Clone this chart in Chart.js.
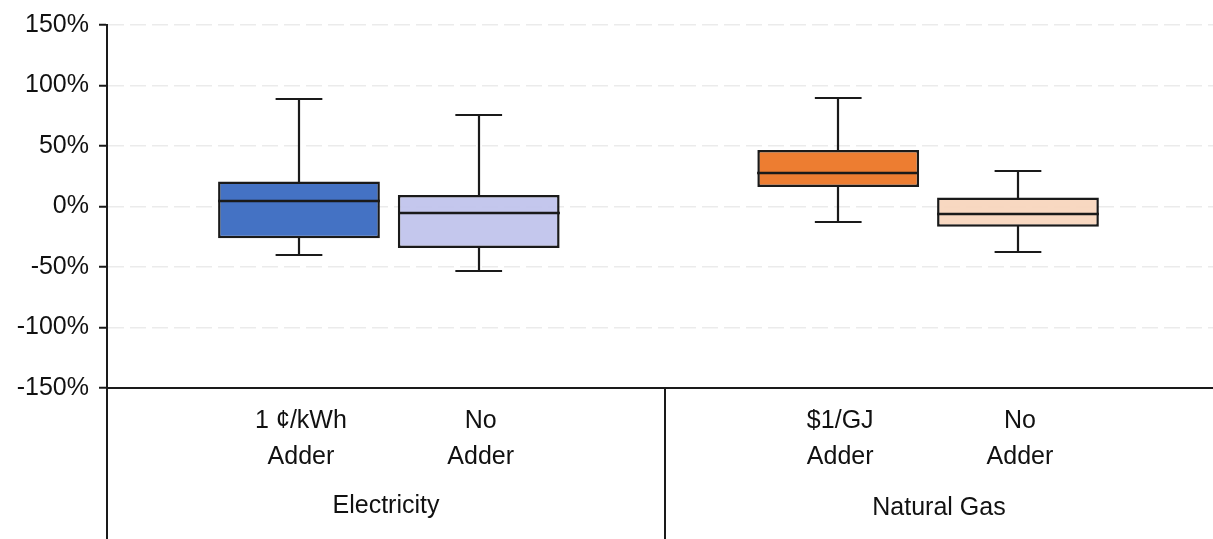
<!DOCTYPE html>
<html>
<head>
<meta charset="utf-8">
<script src="https://cdn.jsdelivr.net/npm/chart.js@4/dist/chart.umd.min.js"></script>
<style>
  html, body { margin: 0; padding: 0; background: #ffffff; }
  #wrap { width: 1213px; height: 539px; position: relative; }
</style>
</head>
<body>
<div id="wrap"><canvas id="chart" width="1213" height="539"></canvas></div>
<script>
// Price change distributions (% change), one box per scenario
const categoryLabels = [['1 ¢/kWh', 'Adder'], ['No', 'Adder'], ['$1/GJ', 'Adder'], ['No', 'Adder']];
const groupOf = [0, 0, 1, 1];
const groupLabels = ['Electricity', 'Natural Gas'];

const whiskerLow  = [-40.3, -52.9, -13.2, -37.6];
const quartile1   = [-26.3, -34.3,  16.2, -16.7];
const medianVals  = [  4.4,  -5.2,  27.7,  -6.3];
const quartile3   = [ 20.6,   9.6,  46.6,   7.4];
const whiskerHigh = [ 88.8,  75.6,  89.9,  29.6];

const yTickValues = [-150, -100, -50, 0, 50, 100, 150];

const boxColors = ['#4472c4', 'rgba(193,196,236,0.95)', '#ed7d31', 'rgba(248,214,190,0.95)'];
const INK = '#1a1a1a';
const FONT = '"Liberation Sans", Arial, sans-serif';

// slot on the x axis: one empty slot between the two groups
const slotOf = i => i + 1 + groupOf[i];
const X_MIN = -0.068, X_MAX = 6.085;
const GROUP_DIVIDER = 3.036;
const CAP_HALF = 0.13;

const boxData = quartile1.map((q, i) => ({ x: slotOf(i), y: [q, quartile3[i]] }));

const boxPlotPlugin = {
  id: 'boxPlotMarks',
  afterDatasetsDraw(chart) {
    const ctx = chart.ctx;
    const xs = chart.scales.x, ys = chart.scales.y;
    const meta = chart.getDatasetMeta(0);
    ctx.save();
    ctx.strokeStyle = INK;
    ctx.lineCap = 'butt';
    medianVals.forEach((m, i) => {
      const bar = meta.data[i];
      const half = bar.width / 2;
      const cx = Math.round(xs.getPixelForValue(slotOf(i)));
      const capL = xs.getPixelForValue(slotOf(i) - CAP_HALF);
      const capR = xs.getPixelForValue(slotOf(i) + CAP_HALF);
      const yMed = Math.round(ys.getPixelForValue(m));
      const yQ1 = ys.getPixelForValue(quartile1[i]);
      const yQ3 = ys.getPixelForValue(quartile3[i]);
      const yLo = Math.round(ys.getPixelForValue(whiskerLow[i]));
      const yHi = Math.round(ys.getPixelForValue(whiskerHigh[i]));
      // median
      ctx.lineWidth = 2.5;
      ctx.beginPath();
      ctx.moveTo(cx - half, yMed); ctx.lineTo(cx + half, yMed);
      ctx.stroke();
      // whiskers and caps
      ctx.lineWidth = 2.2;
      ctx.beginPath();
      ctx.moveTo(cx, yQ3 + 1); ctx.lineTo(cx, yHi);
      ctx.moveTo(capL, yHi); ctx.lineTo(capR, yHi);
      ctx.moveTo(cx, yQ1 - 1); ctx.lineTo(cx, yLo);
      ctx.moveTo(capL, yLo); ctx.lineTo(capR, yLo);
      ctx.stroke();
    });
    ctx.restore();
  },
  afterDraw(chart) {
    const ctx = chart.ctx;
    const xs = chart.scales.x;
    const area = chart.chartArea;
    const bottom = chart.height;
    const divX = Math.round(xs.getPixelForValue(GROUP_DIVIDER));
    ctx.save();
    // frame lines of the two-level category axis
    ctx.strokeStyle = INK;
    ctx.lineWidth = 2;
    ctx.beginPath();
    ctx.moveTo(area.left, area.bottom); ctx.lineTo(area.left, bottom);
    ctx.moveTo(divX, area.bottom); ctx.lineTo(divX, bottom);
    ctx.stroke();

    ctx.fillStyle = '#111';
    ctx.textAlign = 'center';
    ctx.textBaseline = 'alphabetic';
    ctx.font = '25px ' + FONT;
    categoryLabels.forEach((lines, i) => {
      const cx = xs.getPixelForValue(slotOf(i)) + 2;
      lines.forEach((t, k) => {
        ctx.fillText(t, cx, area.bottom + 40 + k * 36);
      });
    });
    const edges = [area.left, divX, area.right];
    groupLabels.forEach((g, gi) => {
      const cx = (edges[gi] + edges[gi + 1]) / 2;
      ctx.fillText(g, cx, area.bottom + 125 + gi * 2);
    });
    ctx.restore();
  }
};

new Chart(document.getElementById('chart'), {
  type: 'bar',
  data: {
    datasets: [{
      data: boxData,
      backgroundColor: boxColors,
      borderColor: INK,
      borderWidth: 2.5,
      borderSkipped: false,
      categoryPercentage: 1.0,
      barPercentage: 0.9
    }]
  },
  options: {
    responsive: false,
    animation: false,
    events: [],
    layout: { padding: { top: 23, right: 0, left: 0, bottom: 0 } },
    plugins: { legend: { display: false }, tooltip: { enabled: false } },
    scales: {
      x: {
        type: 'linear',
        min: X_MIN,
        max: X_MAX,
        offset: false,
        ticks: { display: false },
        grid: { display: false, drawTicks: false },
        border: { display: true, color: INK, width: 2 },
        afterFit(scale) { scale.height = 151; }
      },
      y: {
        min: -150,
        max: 150,
        afterBuildTicks(scale) { scale.ticks = yTickValues.map(v => ({ value: v })); },
        ticks: {
          color: '#111',
          font: { family: FONT, size: 25 },
          padding: 10,
          callback: v => v + '%'
        },
        grid: {
          color: '#ebebeb',
          lineWidth: 1.5,
          tickLength: 8,
          tickColor: INK,
          tickWidth: 2,
          tickBorderDash: []
        },
        border: { display: true, color: INK, width: 2, dash: [16, 6] },
        afterFit(scale) { scale.width = 107; }
      }
    }
  },
  plugins: [boxPlotPlugin]
});
</script>
</body>
</html>
